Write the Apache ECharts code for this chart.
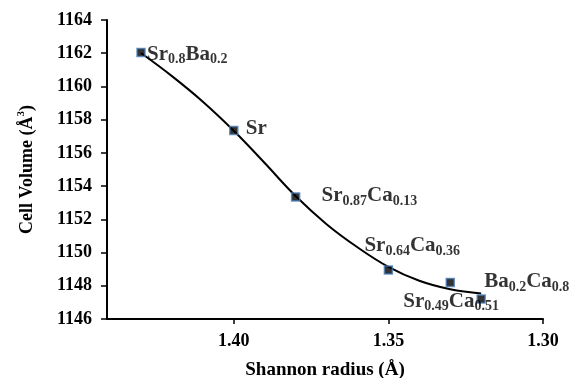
<!DOCTYPE html>
<html>
<head>
<meta charset="utf-8">
<script src="https://cdn.jsdelivr.net/npm/echarts@6/dist/echarts.min.js"></script>
<style>
html,body{margin:0;padding:0;background:#fff;}
#chart{width:573px;height:378px;}
</style>
</head>
<body>
<div id="chart"></div>
<script>
// Measured points (Shannon radius, cell volume)
var radius = [1.43, 1.40, 1.38, 1.35, 1.33, 1.32];
var volume = [1162.05, 1157.35, 1153.35, 1148.95, 1148.2, 1147.2];
// Labels (rich text: m = main, s = subscript)
var labels = [
  '{m|Sr}{s|0.8}{m|Ba}{s|0.2}',
  '{m|Sr}',
  '{m|Sr}{s|0.87}{m|Ca}{s|0.13}',
  '{m|Sr}{s|0.64}{m|Ca}{s|0.36}',
  '{m|Sr}{s|0.49}{m|Ca}{s|0.51}',
  '{m|Ba}{s|0.2}{m|Ca}{s|0.8}'
];
var labelOffsets = [[6, 2], [12, -2], [26, -1], [-24, -24], [-47, 19], [3, -17]];
// Trend curve
var curveX = [1.43, 1.42, 1.41, 1.40, 1.39, 1.38, 1.37, 1.36, 1.35, 1.34, 1.33, 1.32];
var curveY = [1162.01, 1160.62, 1159.08, 1157.33, 1155.39, 1153.40, 1151.71, 1150.32, 1149.14, 1148.30, 1147.79, 1147.54];
// Axes
var xMin = 1.30, xMax = 1.441, xStep = 0.05;
var yMin = 1146, yMax = 1164, yStep = 2;

var FONT = '"Liberation Serif","Times New Roman",serif';
var chart = echarts.init(document.getElementById('chart'), null, {renderer: 'canvas'});

var rich = {
  m: {fontFamily: FONT, fontWeight: 'bold', fontSize: 21, color: '#000', lineHeight: 28, verticalAlign: 'middle'},
  s: {fontFamily: FONT, fontWeight: 'bold', fontSize: 14, color: '#000', lineHeight: 28, verticalAlign: 'bottom', padding: [0, 0, 2, 0]}
};

var pts = radius.map(function (r, i) {
  return {
    value: [r, volume[i]],
    label: {
      show: true,
      position: 'inside',
      align: 'left',
      verticalAlign: 'middle',
      offset: labelOffsets[i],
      formatter: labels[i],
      rich: rich
    }
  };
});
var curve = curveX.map(function (x, i) { return [x, curveY[i]]; });

chart.setOption({
  animation: false,
  backgroundColor: '#fff',
  grid: {left: 107, right: 30, top: 20, bottom: 59, containLabel: false, outerBoundsMode: 'none'},
  xAxis: {
    type: 'value', inverse: true, min: xMin, max: xMax, interval: xStep,
    name: 'Shannon radius (Å)', nameLocation: 'middle', nameGap: 42,
    nameTextStyle: {fontFamily: FONT, fontWeight: 'bold', fontSize: 19, color: '#000'},
    axisLine: {show: true, onZero: false, lineStyle: {color: '#000', width: 2}},
    axisTick: {show: true, length: 5, lineStyle: {color: '#000', width: 1.5}},
    axisLabel: {showMaxLabel: false, margin: 13, fontFamily: FONT, fontWeight: 'bold', fontSize: 18, color: '#000',
      formatter: function (v) { return v.toFixed(2); }},
    splitLine: {show: false}
  },
  yAxis: {
    type: 'value', min: yMin, max: yMax, interval: yStep,
    name: '{n|Cell Volume (Å}{sup|3}{n|)}', nameLocation: 'middle', nameGap: 69,
    nameTextStyle: {
      rich: {
        n: {fontFamily: FONT, fontWeight: 'bold', fontSize: 18, color: '#000', lineHeight: 22},
        sup: {fontFamily: FONT, fontWeight: 'bold', fontSize: 11, color: '#000', lineHeight: 22, verticalAlign: 'top'}
      }
    },
    axisLine: {show: true, onZero: false, lineStyle: {color: '#000', width: 2}},
    axisTick: {show: true, length: 6, lineStyle: {color: '#000', width: 1.5}},
    axisLabel: {margin: 15, fontFamily: FONT, fontWeight: 'bold', fontSize: 18, color: '#000',
      formatter: function (v) { return String(v); }},
    splitLine: {show: false}
  },
  series: [
    {
      type: 'line', data: curve, smooth: 0.4, showSymbol: false, symbol: 'none',
      lineStyle: {color: '#000', width: 2}, z: 2, silent: true
    },
    {
      type: 'scatter', data: pts, symbol: 'rect', symbolSize: 8,
      itemStyle: {color: '#000', borderColor: '#4a7ebb', borderWidth: 1.5}, z: 3
    }
  ]
});
</script>
</body>
</html>
